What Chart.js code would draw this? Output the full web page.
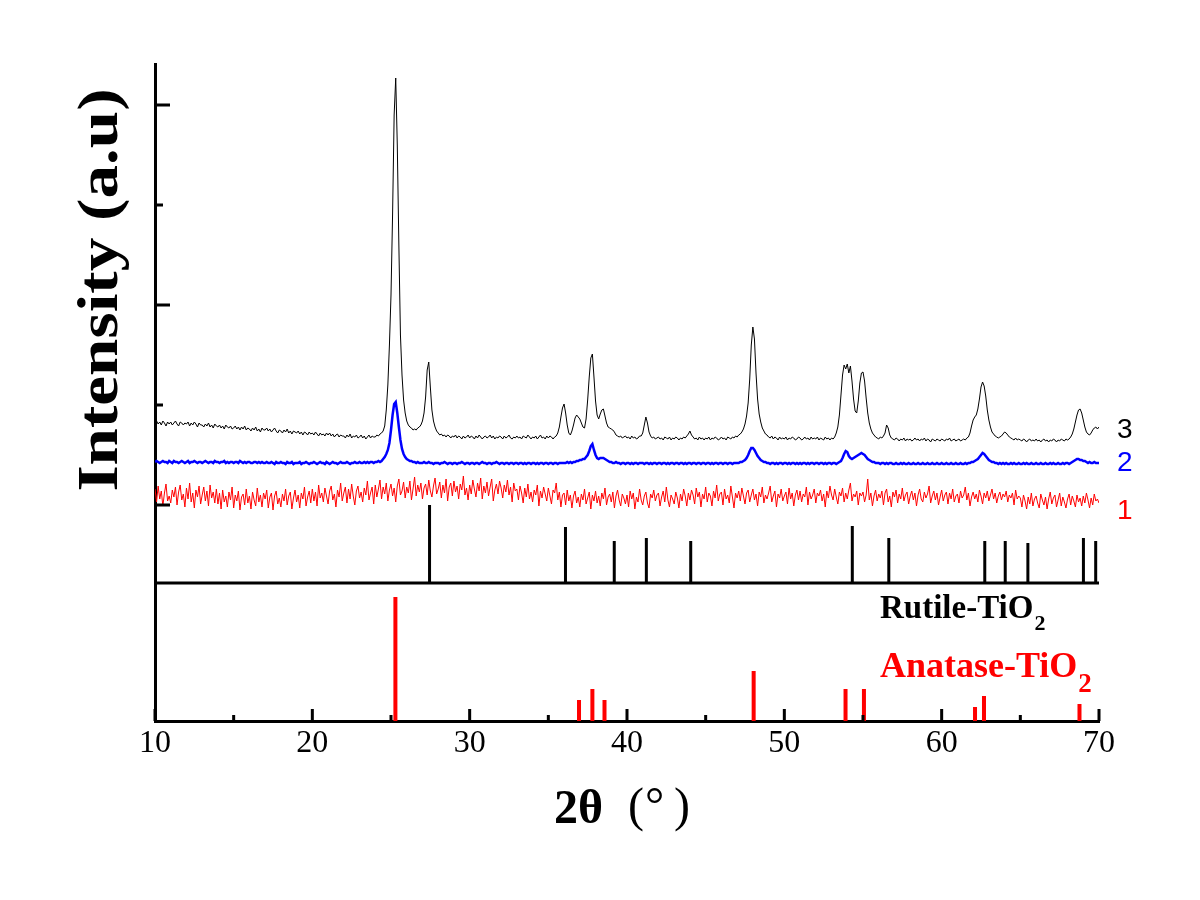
<!DOCTYPE html>
<html>
<head>
<meta charset="utf-8">
<script src="https://cdn.jsdelivr.net/npm/chart.js@4.4.1/dist/chart.umd.min.js"></script>
<style>
  html, body { margin: 0; padding: 0; background: #fff; }
  #xrd { display: block; }
</style>
</head>
<body>
<canvas id="xrd" width="1200" height="900"></canvas>
<script>
// scans run from 10 to 70 deg 2theta, one value every 0.1 deg (one row = 1 deg)
const scanStart = 10;
const scanStep = 0.1;

// sample 3 (black)
const sample3 = [
  82,84,81,83,80,84,82,79,83,81,
  83,80,82,84,81,79,83,82,80,82,
  81,83,79,82,80,83,81,78,82,80,
  80,78,81,79,82,78,80,77,81,79,
  78,80,77,79,76,80,78,77,79,76,
  77,79,76,78,75,78,76,79,75,77,
  76,74,77,75,78,74,76,73,77,75,
  75,77,74,76,73,75,77,74,72,75,
  74,72,75,73,76,72,74,71,74,73,
  72,74,71,73,70,73,72,70,73,71,
  72,70,73,71,69,72,70,71,69,72,
  70,72,69,71,68,70,71,68,70,69,
  69,67,70,68,71,67,69,68,70,67,
  68,70,67,69,66,68,70,67,69,68,
  68,70,69,71,72,74,79,95,120,160,
  210,290,390,427,360,260,170,130,105,92,
  84,80,78,77,75,76,75,77,78,80,
  84,92,108,135,143,118,95,84,78,74,
  72,70,71,69,70,68,70,69,67,69,
  68,70,67,69,68,66,69,67,68,70,
  67,69,68,66,69,67,70,68,66,68,
  69,67,68,70,67,69,66,68,67,69,
  68,66,69,67,68,70,67,66,68,67,
  69,67,68,66,69,68,67,70,68,66,
  68,67,69,66,68,70,67,68,66,69,
  67,69,68,66,68,69,72,78,88,97,
  101,92,80,72,70,74,80,87,90,88,
  86,82,78,77,86,105,128,147,151,128,
  104,90,86,91,95,96,89,82,78,77,
  76,75,73,70,69,68,69,67,68,69,
  67,68,66,69,67,68,66,67,69,69,
  72,80,88,82,73,69,67,68,66,67,
  68,66,67,65,68,67,66,68,65,67,
  66,68,67,65,67,66,68,67,69,71,
  74,70,68,66,67,65,68,66,67,65,
  67,66,68,65,67,66,68,67,65,66,
  68,66,67,65,68,67,66,68,67,69,
  68,70,71,73,76,81,89,102,126,160,
  178,166,132,106,91,83,77,74,71,70,
  68,67,69,66,68,67,65,68,66,67,
  66,68,65,67,66,68,67,65,66,68,
  67,65,66,68,66,67,65,68,66,67,
  66,68,65,67,66,65,68,66,67,65,
  67,66,68,72,78,90,110,130,140,136,
  141,132,139,124,106,94,92,104,122,132,
  133,124,107,92,82,76,72,70,68,67,
  66,68,67,69,72,80,77,70,67,66,
  65,67,66,64,66,65,67,64,66,65,
  66,64,65,67,65,66,64,66,65,67,
  64,66,65,63,66,65,64,66,65,64,
  66,65,64,66,65,67,64,65,66,64,
  65,66,64,65,66,65,67,68,72,79,
  85,88,90,96,106,118,123,119,109,95,
  85,78,73,71,69,68,67,68,69,71,
  73,72,70,68,67,66,65,67,65,66,
  65,64,66,65,63,65,66,64,65,64,
  66,64,65,63,65,66,64,65,63,65,
  64,66,65,63,65,64,66,65,64,66,
  65,66,68,71,76,83,90,95,96,92,
  85,78,73,71,70,72,75,77,78,76,
  78
];

// sample 2 (blue)
const sample2 = [
  43,44,43,42,43,44,43,43,42,44,
  43,42,44,43,43,42,43,44,43,42,
  43,44,42,43,43,44,43,42,43,43,
  42,43,44,43,42,43,43,42,44,43,
  43,42,43,43,44,42,43,42,43,43,
  42,43,43,42,44,43,42,43,42,43,
  43,42,42,43,43,42,43,42,43,42,
  42,43,42,42,43,42,41,43,42,42,
  43,42,42,41,43,42,42,43,41,42,
  42,42,43,41,42,42,43,42,41,42,
  42,43,42,41,42,43,42,42,41,43,
  42,41,42,43,42,42,41,42,43,42,
  42,42,43,42,41,42,42,43,42,42,
  43,42,42,43,42,43,42,43,43,42,
  43,43,44,43,44,46,48,51,55,62,
  75,90,101,103,92,78,65,56,51,48,
  46,45,44,44,43,43,42,43,42,42,
  42,43,42,42,43,42,42,41,42,42,
  42,41,42,42,43,42,41,42,42,41,
  42,42,41,42,42,43,42,41,42,42,
  41,42,42,41,42,42,41,42,43,42,
  42,41,42,42,41,42,42,43,42,41,
  42,42,41,42,42,41,42,42,41,42,
  42,41,42,42,41,42,41,42,42,41,
  42,42,41,42,41,42,42,41,42,42,
  41,42,42,41,42,42,41,42,42,42,
  42,42,43,42,43,42,43,43,44,44,
  45,45,46,46,48,50,54,59,61,55,
  50,47,46,47,47,47,46,45,44,43,
  43,42,42,43,42,42,41,42,42,41,
  42,42,41,42,41,42,42,41,42,42,
  42,41,42,42,41,42,41,42,42,41,
  42,42,41,42,42,41,42,41,42,42,
  41,42,42,41,42,42,41,42,41,42,
  42,41,42,42,41,42,42,41,42,42,
  41,42,42,41,42,41,42,42,41,42,
  42,41,42,42,41,42,42,41,42,42,
  42,42,43,43,44,45,47,50,54,57,
  57,55,52,49,47,45,44,43,43,42,
  42,41,42,42,41,42,41,42,42,41,
  42,42,41,42,41,42,42,41,42,41,
  42,41,42,42,41,42,41,42,42,41,
  42,42,41,42,42,41,42,41,42,42,
  41,42,42,41,42,43,44,47,51,54,
  53,49,47,46,47,48,49,50,51,52,
  51,50,48,46,45,44,43,43,42,42,
  42,41,42,42,41,42,41,42,42,41,
  41,42,41,41,42,41,42,41,41,42,
  41,41,42,41,41,42,41,41,42,41,
  41,42,41,41,42,41,41,42,41,41,
  42,41,41,42,41,41,42,41,41,42,
  41,41,42,41,41,42,41,42,42,43,
  43,44,45,46,48,50,52,51,49,47,
  45,44,43,43,42,42,41,42,41,42,
  41,42,41,41,42,41,42,41,41,42,
  41,41,42,41,42,41,41,42,41,41,
  42,41,41,42,41,41,42,41,41,42,
  41,42,41,41,42,41,41,42,41,42,
  42,41,42,43,44,45,46,46,45,45,
  44,44,43,42,43,42,42,43,42,42,
  42
];

// sample 1 (red), amorphous, noise only
const sample1 = [
  16,3,19,6,14,-1,12,21,4,9,
  2,15,8,18,0,13,20,5,11,-2,
  17,6,22,3,12,-3,15,8,19,1,
  10,18,4,14,-1,20,7,13,2,16,
  1,12,-4,15,3,9,-2,13,5,18,
  -3,10,4,14,-5,8,11,0,16,2,
  9,-4,13,5,-1,17,3,10,-2,12,
  6,15,-3,8,12,-5,9,14,1,7,
  -2,11,4,16,0,9,13,-4,7,15,
  3,10,-3,12,6,18,-1,8,14,2,
  16,4,13,-1,20,7,12,3,17,9,
  1,14,19,5,11,-2,15,8,22,4,
  12,18,2,16,6,21,9,0,14,19,
  7,13,3,17,10,24,5,12,18,1,
  20,8,16,25,6,18,11,22,4,15,
  21,9,17,3,19,26,10,14,23,7,
  18,12,24,5,16,28,9,20,13,22,
  6,17,21,10,25,14,8,19,27,11,
  16,23,7,20,12,26,4,18,22,9,
  24,13,19,6,21,15,29,10,17,5,
  20,11,25,16,8,22,14,27,6,19,
  12,23,9,18,26,4,15,21,11,24,
  17,7,20,13,25,10,18,3,22,14,
  16,5,19,12,2,17,8,21,6,13,
  3,15,10,20,-1,14,7,18,11,4,
  17,9,1,15,12,22,5,13,-2,10,
  12,0,15,4,10,-3,9,14,2,8,
  -2,11,5,16,1,7,13,-4,10,4,
  14,2,9,-1,12,6,17,0,8,11,
  3,13,-3,9,15,5,-1,11,7,1,
  10,-2,14,6,12,-4,8,3,16,5,
  0,9,13,2,-3,11,7,15,4,10,
  12,-1,8,14,3,18,5,-2,10,6,
  1,13,7,-3,11,4,16,9,-1,12,
  5,15,10,1,17,8,13,-2,11,6,
  18,3,12,9,-1,14,7,20,4,11,
  13,0,16,6,10,2,19,8,-3,12,
  7,14,4,17,9,1,12,15,3,10,
  16,5,11,-1,13,8,18,2,10,6,
  12,19,3,9,14,-2,11,7,16,4,
  9,13,1,17,6,12,-1,10,15,5,
  14,3,11,8,18,0,13,6,10,16,
  2,12,9,15,4,11,-2,14,7,19,
  10,5,16,8,1,13,9,17,3,12,
  6,15,22,4,11,8,14,0,12,9,
  13,3,10,26,5,12,-1,9,15,4,
  11,7,14,0,12,16,3,9,-2,13,
  8,15,2,11,6,17,4,10,13,1,
  9,14,5,12,-1,10,16,6,3,13,
  7,11,19,2,9,14,5,12,0,8,
  15,4,10,13,1,12,6,16,3,9,
  11,2,14,7,10,18,5,12,-1,8,
  13,6,11,3,15,9,1,12,7,14,
  4,10,16,6,12,2,9,13,5,11,
  8,14,3,10,7,12,0,15,6,9,
  7,-2,10,4,-4,8,1,12,-1,6,
  9,2,-3,11,5,0,8,-4,6,13,
  1,7,10,-2,5,12,-1,8,3,-3,
  6,11,0,9,4,-2,10,3,7,-1,
  9,2,12,5,-3,7,0,11,4,6,
  2
];

// reference patterns (stick heights in the same a.u.)
const rutilePos = [27.45, 36.09, 39.19, 41.23, 44.05, 54.32, 56.64, 62.74, 64.04, 65.48, 69.01, 69.79];
const rutileTop = [0, -22, -36, -33, -36, -21, -33, -36, -36, -38, -33, -36];
const rutileBase = -78;

const anatasePos = [25.28, 36.95, 37.80, 38.57, 48.05, 53.89, 55.06, 62.12, 62.69, 68.76];
const anataseTop = [-92, -195, -184, -195, -166, -184, -184, -202, -191, -199];
const anataseBase = -216;

const xMajorTicks = [10, 20, 30, 40, 50, 60, 70];
const xMinorTicks = [15, 25, 35, 45, 55, 65];
const yMajorTicks = [0, 200, 400];
const yMinorTicks = [100, 300];

const serif = "'Liberation Serif', 'Times New Roman', serif";
const sans = "'Liberation Sans', Arial, sans-serif";

function scanPoints(values) {
  return values.map((v, i) => ({ x: +(scanStart + i * scanStep).toFixed(1), y: v }));
}

// each stick is base -> top, then a null to break the line
function stickPoints(pos, top, base) {
  const pts = [];
  for (let i = 0; i < pos.length; i++) {
    pts.push({ x: pos[i], y: base }, { x: pos[i], y: top[i] }, { x: pos[i], y: null });
  }
  return pts;
}

function chemLabel(c, main, sub, x, y, size, subSize, subDrop, color) {
  c.fillStyle = color;
  c.textAlign = 'left';
  c.textBaseline = 'alphabetic';
  c.font = 'bold ' + size + 'px ' + serif;
  c.fillText(main, x, y);
  const w = c.measureText(main).width;
  c.font = 'bold ' + subSize + 'px ' + serif;
  c.fillText(sub, x + w + 1, y + subDrop);
}

// inward ticks, labels and titles
const decor = {
  id: 'decor',
  afterDraw(chart) {
    const c = chart.ctx;
    const xs = chart.scales.x, ys = chart.scales.y;
    const area = chart.chartArea;
    c.save();
    c.strokeStyle = '#000';
    c.lineWidth = 3;
    c.lineCap = 'butt';
    c.beginPath();
    xMajorTicks.forEach(v => { const p = xs.getPixelForValue(v); c.moveTo(p, area.bottom); c.lineTo(p, area.bottom - 12); });
    xMinorTicks.forEach(v => { const p = xs.getPixelForValue(v); c.moveTo(p, area.bottom); c.lineTo(p, area.bottom - 6); });
    yMajorTicks.forEach(v => { const p = ys.getPixelForValue(v); c.moveTo(area.left, p); c.lineTo(area.left + 15, p); });
    yMinorTicks.forEach(v => { const p = ys.getPixelForValue(v); c.moveTo(area.left, p); c.lineTo(area.left + 8, p); });
    c.stroke();

    // curve numbers
    c.font = '28px ' + sans;
    c.textAlign = 'left';
    c.textBaseline = 'middle';
    c.fillStyle = '#000';
    c.fillText('3', area.right + 18, ys.getPixelForValue(75));
    c.fillStyle = '#0000ff';
    c.fillText('2', area.right + 18, ys.getPixelForValue(42));
    c.fillStyle = '#ff0000';
    c.fillText('1', area.right + 18, ys.getPixelForValue(-6));

    chemLabel(c, 'Rutile-TiO', '2', 880, 618, 33, 22, 12, '#000');
    chemLabel(c, 'Anatase-TiO', '2', 880, 677, 36, 27, 15, '#ff0000');

    // y title, a little stretched along its length like the original
    c.save();
    c.translate(117, 290);
    c.rotate(-Math.PI / 2);
    c.scale(1.2, 1);
    c.fillStyle = '#000';
    c.textAlign = 'center';
    c.textBaseline = 'alphabetic';
    c.font = 'bold 56px ' + serif;
    c.fillText('Intensity (a.u)', 0, 0);
    c.restore();

    // x title
    c.fillStyle = '#000';
    c.textAlign = 'left';
    c.textBaseline = 'alphabetic';
    c.font = 'bold 48px ' + serif;
    c.fillText('2\u03b8', 554, 823);
    c.font = '48px ' + serif;
    c.fillText('(', 628, 821);
    c.fillText('\u00b0', 645, 821);
    c.fillText(')', 674, 821);
    c.restore();
  }
};

const ctx = document.getElementById('xrd');
const chart = new Chart(ctx, {
  type: 'line',
  data: {
    datasets: [
      { data: [{ x: 10, y: rutileBase }, { x: 70, y: rutileBase }], borderColor: '#000', borderWidth: 3 },
      { data: stickPoints(rutilePos, rutileTop, rutileBase), borderColor: '#000', borderWidth: 3 },
      { data: stickPoints(anatasePos, anataseTop, anataseBase), borderColor: '#ff0000', borderWidth: 4 },
      { data: scanPoints(sample1), borderColor: '#ff0000', borderWidth: 1 },
      { data: scanPoints(sample2), borderColor: '#0000ff', borderWidth: 2.5 },
      { data: scanPoints(sample3), borderColor: '#000', borderWidth: 1 }
    ]
  },
  options: {
    responsive: false,
    animation: false,
    spanGaps: false,
    elements: { point: { radius: 0 }, line: { tension: 0, borderCapStyle: 'butt' } },
    layout: { padding: { top: 64, right: 101, left: 0, bottom: 0 } },
    plugins: { legend: { display: false }, tooltip: { enabled: false } },
    scales: {
      x: {
        type: 'linear',
        min: 10,
        max: 70,
        afterFit: s => { s.height = 179; },
        grid: { drawOnChartArea: false, drawTicks: false },
        border: { color: '#000', width: 3 },
        ticks: { stepSize: 10, padding: 3, color: '#000', font: { family: serif, size: 32 } }
      },
      y: {
        min: -216,
        max: 441,
        afterFit: s => { s.width = 155; },
        grid: { drawOnChartArea: false, drawTicks: false },
        border: { color: '#000', width: 3 },
        ticks: { display: false, stepSize: 100 }
      }
    }
  },
  plugins: [decor]
});
</script>
</body>
</html>
